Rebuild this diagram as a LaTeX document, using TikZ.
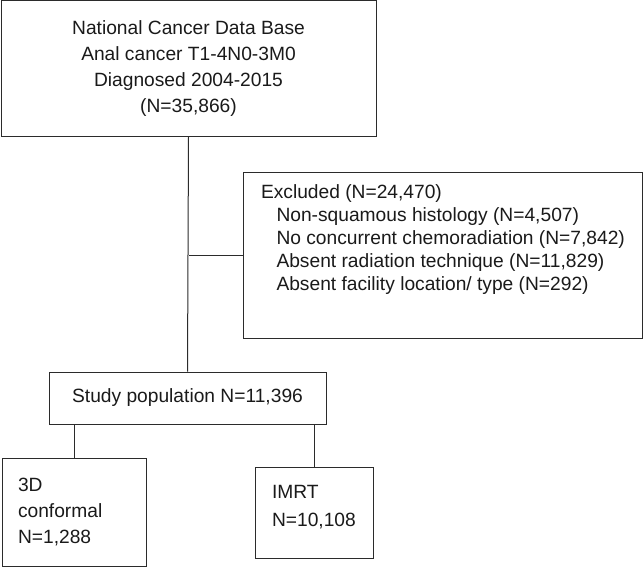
\documentclass[tikz,border=0pt]{standalone}
\usepackage{fontspec}
\setmainfont{Liberation Sans}
\usetikzlibrary{positioning, calc}
\definecolor{cline}{HTML}{2B2B2B}
\definecolor{ctext}{HTML}{1A1A1A}
\tikzset{
  every picture/.style={font=\fontsize{19.2}{26}\selectfont, line width=1pt},
  box/.style={draw=cline, inner sep=0pt, text=ctext},
  leftbox/.style={box, align=left, inner xsep=16pt, text width=#1},
  label/.style={align=left, inner sep=0pt, text=ctext},
  link/.style={draw=cline, line width=1pt},
}

\begin{document}
\begin{tikzpicture}
  \useasboundingbox (0,0) rectangle (644pt,-567pt);
  % source cohort
  \node[box, align=center, minimum width=375pt, minimum height=135pt] (ncdb) at (188.5pt,-68.5pt)
    {National Cancer Data Base\\ Anal cancer T1-4N0-3M0\\ Diagnosed 2004-2015\\ (N=35,866)};
  % exclusions
  \node[box, minimum width=399pt, minimum height=166pt] (excl) at (442.5pt,-255pt) {};
  \node[label, anchor=north west, font=\fontsize{19.2}{22.9}\selectfont]
    (excltext) at ($(excl.north west)+(18pt,-13pt)$)
    {Excluded (N=24,470)\\
     \hspace{15.5pt}Non-squamous histology (N=4,507)\\
     \hspace{15.5pt}No concurrent chemoradiation (N=7,842)\\
     \hspace{15.5pt}Absent radiation technique (N=11,829)\\
     \hspace{15.5pt}Absent facility location/ type (N=292)};
  % study population and arms
  \node[box, align=center, minimum width=277pt, minimum height=52pt] (study) at (187.5pt,-398pt)
    {Study population N=11,396};
  \node[leftbox=112pt, minimum height=108pt] (conf) at (74pt,-512pt)
    {3D\\ conformal\\ N=1,288};
  \node[box, minimum width=118pt, minimum height=91pt] (imrt) at (314pt,-512.5pt) {};
  \node[label, anchor=west, font=\fontsize{19.2}{28}\selectfont]
    (imrttext) at ($(imrt.west)+(17pt,5.5pt)$) {IMRT\\ N=10,108};
  % connectors
  \draw[link] (ncdb.south) -- (study.north);
  \draw[link] (ncdb.south |- excl.west) -- (excl.west);
  \draw[link] (conf.north |- study.south) -- (conf.north);
  \draw[link] (imrt.north |- study.south) -- (imrt.north);
\end{tikzpicture}
\end{document}
